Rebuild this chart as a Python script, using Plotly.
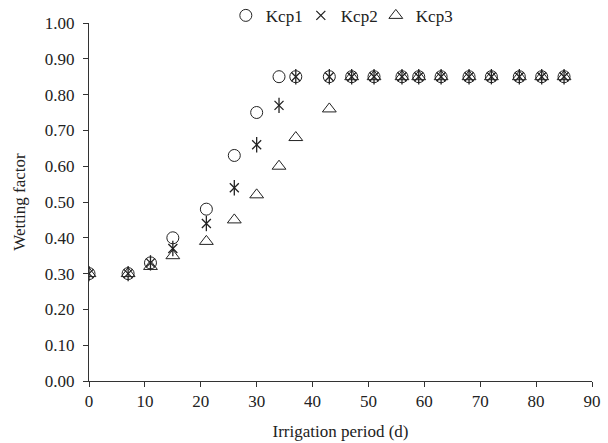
import plotly.graph_objects as go

days = [0, 7, 11, 15, 21, 26, 30, 34, 37, 43, 47, 51, 56, 59, 63, 68, 72, 77, 81, 85]
kcp1 = [0.30, 0.30, 0.33, 0.40, 0.48, 0.63, 0.75, 0.85, 0.85, 0.85, 0.85, 0.85, 0.85, 0.85, 0.85, 0.85, 0.85, 0.85, 0.85, 0.85]
kcp2 = [0.30, 0.30, 0.33, 0.37, 0.44, 0.54, 0.66, 0.77, 0.85, 0.85, 0.85, 0.85, 0.85, 0.85, 0.85, 0.85, 0.85, 0.85, 0.85, 0.85]
kcp3 = [0.30, 0.30, 0.32, 0.35, 0.39, 0.45, 0.52, 0.60, 0.68, 0.76, 0.85, 0.85, 0.85, 0.85, 0.85, 0.85, 0.85, 0.85, 0.85, 0.85]
y_ticks = [0.0, 0.1, 0.2, 0.3, 0.4, 0.5, 0.6, 0.7, 0.8, 0.9, 1.0]
x_ticks = [0, 10, 20, 30, 40, 50, 60, 70, 80, 90]

FONT = "Liberation Serif, Times New Roman, serif"
ink = "#222222"

fig = go.Figure()
fig.add_trace(go.Scatter(x=days, y=kcp1, mode="markers", name="Kcp1",
                         marker=dict(symbol="circle-open", size=12, color=ink, line=dict(width=1, color=ink))))
fig.add_trace(go.Scatter(x=days, y=kcp2, mode="markers", name="Kcp2", legendgroup="k2",
                         marker=dict(symbol="x-thin-open", size=9, color=ink, line=dict(width=1.3, color=ink))))
fig.add_trace(go.Scatter(x=days, y=kcp2, mode="markers", name="Kcp2", legendgroup="k2", showlegend=False,
                         marker=dict(symbol="line-ns-open", size=11, color=ink, line=dict(width=1.3, color=ink))))
fig.add_trace(go.Scatter(x=days, y=kcp3, mode="markers", name="Kcp3",
                         marker=dict(symbol="triangle-up-open", size=12, color=ink, line=dict(width=1, color=ink))))
# invisible spacer entry so the last legend label is not clipped
fig.add_trace(go.Scatter(x=[0], y=[-1], mode="markers", name=" ", hoverinfo="skip",
                         marker=dict(symbol="circle", size=1, color="rgba(0,0,0,0)",
                                     line=dict(width=0, color="rgba(0,0,0,0)"))))

fig.update_layout(
    width=608, height=443,
    margin=dict(l=89, r=16, t=23, b=62, autoexpand=False),
    paper_bgcolor="white", plot_bgcolor="white",
    font=dict(family=FONT, size=17, color=ink),
    showlegend=True,
    legend=dict(orientation="h", x=0.272, y=1.02, xanchor="left", yanchor="middle",
                font=dict(size=17), itemwidth=30, entrywidth=30, entrywidthmode="pixels",
                tracegroupgap=0, bgcolor="rgba(0,0,0,0)"),
    xaxis=dict(range=[0, 90], tickvals=x_ticks, ticks="outside", ticklen=5, tickcolor="#333",
               showline=True, linecolor="#333", linewidth=1, showgrid=False, zeroline=False,
               title=dict(text="Irrigation period (d)", font=dict(size=17), standoff=14)),
    yaxis=dict(range=[0, 1.0], tickvals=y_ticks, tickformat=".2f", ticks="outside", ticklen=5, tickcolor="#333",
               ticklabelstandoff=5,
               showline=True, linecolor="#333", linewidth=1, showgrid=False, zeroline=False,
               title=dict(text="Wetting factor", font=dict(size=17), standoff=14)),
)
fig.write_html("out.html")
